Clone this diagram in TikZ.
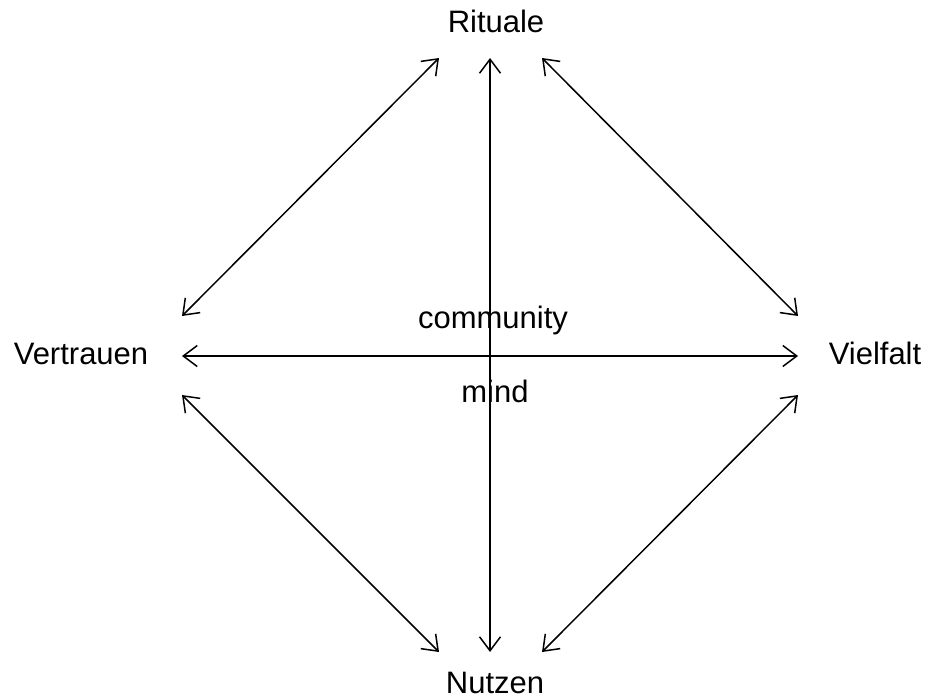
\documentclass[tikz,border=0pt]{standalone}
\usepackage{fontspec}
\setmainfont{Liberation Sans}
\usetikzlibrary{arrows.meta}
\begin{document}
\begin{tikzpicture}[x=1pt,y=-1pt,
  lbl/.style={inner sep=0pt,anchor=base,font=\fontsize{31}{36}\selectfont},
  link/.style={line width=1.5pt,{Straight Barb[length=14pt,width=21pt,line width=1.5pt]}-{Straight Barb[length=14pt,width=21pt,line width=1.5pt]}}]
\useasboundingbox (0,0) rectangle (925,698);
\node[lbl] (R) at (496,33) {Rituale};
\node[lbl] (N) at (495,693) {Nutzen};
\node[lbl] (V) at (81,364) {Vertrauen};
\node[lbl] (F) at (875,364) {Vielfalt};
\node[lbl] (C) at (493,328) {community};
\node[lbl] (M) at (495,402) {mind};
\coordinate (Rsw) at (439,58);
\coordinate (Rs) at (490,58);
\coordinate (Rse) at (542,58);
\coordinate (Nnw) at (439,652);
\coordinate (Nn) at (490,652);
\coordinate (Nne) at (542,652);
\coordinate (Vne) at (182,316);
\coordinate (Ve) at (182,356);
\coordinate (Vse) at (182,395);
\coordinate (Fnw) at (798,316);
\coordinate (Fw) at (798,356);
\coordinate (Fsw) at (798,395);
\draw[link] (Rsw) -- (Vne);
\draw[link] (Rse) -- (Fnw);
\draw[link] (Rs) -- (Nn);
\draw[link] (Ve) -- (Fw);
\draw[link] (Vse) -- (Nnw);
\draw[link] (Fsw) -- (Nne);
\end{tikzpicture}
\end{document}
